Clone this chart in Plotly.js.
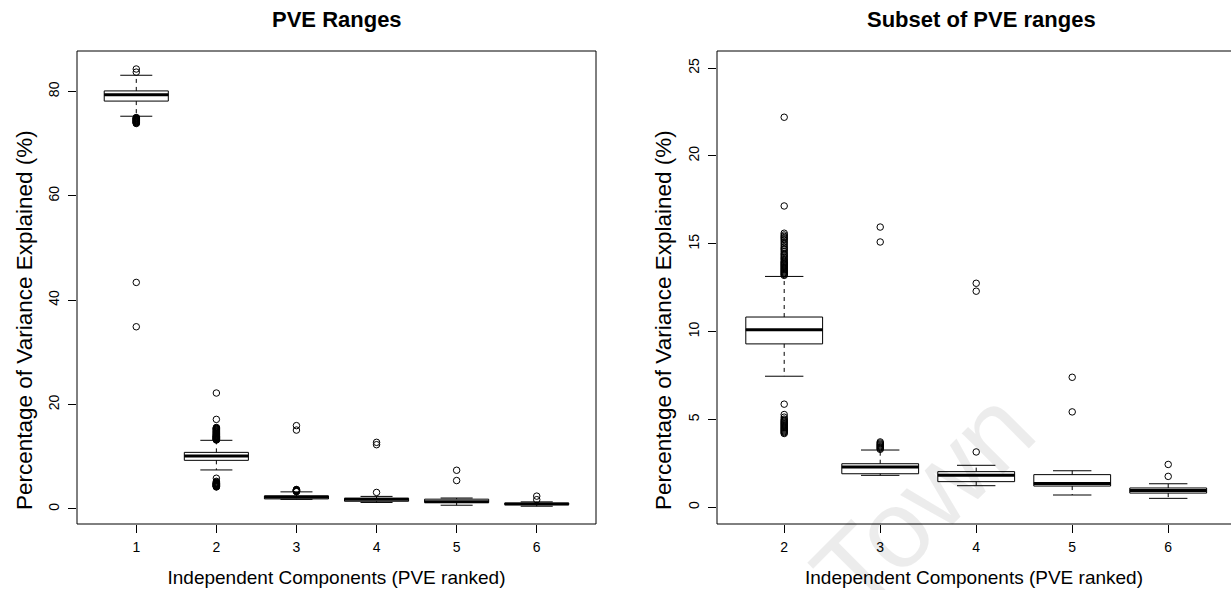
<!DOCTYPE html>
<html><head><meta charset="utf-8">
<script src="https://cdn.plot.ly/plotly-3.0.1.min.js"></script>
<style>html,body{margin:0;padding:0;background:#fff;}#chart{width:1231px;height:590px;}</style>
</head><body><div id="chart"></div>
<script>
// ---- data ----
const components = [1, 2, 3, 4, 5, 6];
const subsetComponents = [2, 3, 4, 5, 6];
const q1 = [78.15, 9.30, 1.91, 1.46, 1.21, 0.81];
const median = [79.35, 10.11, 2.29, 1.83, 1.36, 0.95];
const q3 = [80.10, 10.83, 2.48, 2.03, 1.86, 1.10];
const lowerWhisker = [75.25, 7.46, 1.82, 1.23, 0.70, 0.51];
const upperWhisker = [83.10, 13.14, 3.26, 2.39, 2.08, 1.34];
const outliersIC1 = [84.3, 83.7, 75.0, 74.92, 74.85, 74.78, 74.7, 74.62, 74.55, 74.48, 74.4, 74.33, 74.25, 74.18, 74.1, 74.02, 73.95, 73.85, 43.4, 34.9];
const outliersIC2 = [22.2, 17.15, 15.6, 15.5, 15.42, 15.35, 15.28, 15.2, 15.1, 15.0, 14.9, 14.8, 14.72, 14.65, 14.55, 14.45, 14.38, 14.3, 14.22, 14.15, 14.08, 14.0, 13.95, 13.9, 13.85, 13.8, 13.75, 13.7, 13.65, 13.6, 13.55, 13.5, 13.45, 13.4, 13.35, 13.3, 13.25, 13.2,
  5.87, 5.28, 5.13, 5.02, 4.96, 4.9, 4.85, 4.8, 4.75, 4.7, 4.65, 4.6, 4.55, 4.5, 4.45, 4.4, 4.35, 4.3, 4.25, 4.2];
const outliersIC3 = [15.95, 15.1, 3.72, 3.66, 3.6, 3.55, 3.5, 3.45, 3.4, 3.35, 3.3];
const outliersIC4 = [12.75, 12.3, 3.15];
const outliersIC5 = [7.40, 5.43];
const outliersIC6 = [2.44, 1.76];
const outliers = [outliersIC1, outliersIC2, outliersIC3, outliersIC4, outliersIC5, outliersIC6];
const leftTicksY = [0, 20, 40, 60, 80];
const rightTicksY = [0, 5, 10, 15, 20, 25];

const BOXW = 0.8, CAPW = 0.4;

function traces(comps, xa, ya) {
  const idx = comps.map(c => components.indexOf(c));
  const out = [];
  out.push({
    type: 'box', xaxis: xa, yaxis: ya, x: comps,
    q1: idx.map(i => q1[i]), median: idx.map(i => median[i]), q3: idx.map(i => q3[i]),
    lowerfence: idx.map(i => q1[i]), upperfence: idx.map(i => q3[i]),
    width: BOXW, whiskerwidth: 0, boxpoints: false,
    fillcolor: 'rgba(0,0,0,0)', line: {color: 'black', width: 1},
    hoverinfo: 'skip', showlegend: false
  });
  const wx = [], wy = [], cx = [], cy = [], mx = [], my = [];
  idx.forEach((i, k) => {
    const c = comps[k];
    wx.push(c, c, null, c, c, null);
    wy.push(q3[i], upperWhisker[i], null, q1[i], lowerWhisker[i], null);
    cx.push(c - CAPW / 2, c + CAPW / 2, null, c - CAPW / 2, c + CAPW / 2, null);
    cy.push(upperWhisker[i], upperWhisker[i], null, lowerWhisker[i], lowerWhisker[i], null);
    mx.push(c - BOXW / 2, c + BOXW / 2, null);
    my.push(median[i], median[i], null);
  });
  out.push({type: 'scatter', mode: 'lines', xaxis: xa, yaxis: ya, x: wx, y: wy,
    line: {color: 'black', width: 1, dash: '4px,4px'}, hoverinfo: 'skip', showlegend: false});
  out.push({type: 'scatter', mode: 'lines', xaxis: xa, yaxis: ya, x: cx, y: cy,
    line: {color: 'black', width: 1}, hoverinfo: 'skip', showlegend: false});
  out.push({type: 'scatter', mode: 'lines', xaxis: xa, yaxis: ya, x: mx, y: my,
    line: {color: 'black', width: 3}, hoverinfo: 'skip', showlegend: false});
  const ox = [], oy = [];
  idx.forEach((i, k) => outliers[i].forEach(v => { ox.push(comps[k]); oy.push(v); }));
  out.push({type: 'scatter', mode: 'markers', xaxis: xa, yaxis: ya, x: ox, y: oy,
    marker: {symbol: 'circle-open', size: 6.5, color: 'black', line: {width: 1}},
    hoverinfo: 'y', showlegend: false});
  return out;
}

const data = traces(components, 'x', 'y').concat(traces(subsetComponents, 'x2', 'y2'));

const FONT = 'Liberation Sans, Arial, Helvetica, sans-serif';
const axisCommon = {showgrid: false, zeroline: false, showline: false, ticks: 'outside',
  ticklen: 8, tickcolor: 'black', tickwidth: 1, tickfont: {size: 14, color: 'black'}, automargin: false, fixedrange: true};
const yTitle = 'Percentage of Variance Explained (%)';

const layout = {
  width: 1231, height: 590, autosize: false,
  margin: {l: 0, r: 0, t: 51, b: 66, pad: 0},
  paper_bgcolor: 'white', plot_bgcolor: 'rgba(0,0,0,0)', showlegend: false,
  font: {family: FONT, color: 'black'},
  xaxis: Object.assign({}, axisCommon, {domain: [77 / 1231, 596 / 1231], range: [0.26, 6.74], tickvals: components,
    anchor: 'y', ticklabelstandoff: 2, title: {text: 'Independent Components (PVE ranked)', font: {size: 19}, standoff: 16}}),
  yaxis: Object.assign({}, axisCommon, {domain: [0, 1], range: [-2.9, 87.75], tickvals: leftTicksY, tickangle: -90,
    anchor: 'x', ticklabelstandoff: 3}),
  xaxis2: Object.assign({}, axisCommon, {domain: [717 / 1231, 1], range: [1.3, 6.654], tickvals: subsetComponents,
    anchor: 'y2', ticklabelstandoff: 2, title: {text: 'Independent Components (PVE ranked)', font: {size: 19}, standoff: 16}}),
  yaxis2: Object.assign({}, axisCommon, {domain: [0, 1], range: [-0.95, 25.97], tickvals: rightTicksY, tickangle: -90,
    anchor: 'x2', ticklabelstandoff: 3}),
  shapes: [
    {type: 'rect', xref: 'x domain', yref: 'y domain', x0: 0, x1: 1, y0: 0, y1: 1, line: {color: 'black', width: 1}},
    {type: 'path', xref: 'x2 domain', yref: 'y2 domain', path: 'M 1.01,1 L 0,1 L 0,0 L 1.01,0', line: {color: 'black', width: 1}}
  ],
  annotations: [
    {text: '<b>PVE Ranges</b>', xref: 'x', yref: 'paper', x: 3.5, y: 1 + 31 / 473, yanchor: 'middle', showarrow: false, font: {size: 22}},
    {text: '<b>Subset of PVE ranges</b>', xref: 'x2', yref: 'paper', x: 4.06, y: 1 + 31 / 473, yanchor: 'middle', showarrow: false, font: {size: 22}},
    {text: yTitle, xref: 'paper', yref: 'paper', x: 24 / 1231, y: (524 - 320) / 473, xanchor: 'center', yanchor: 'middle',
      textangle: -90, showarrow: false, font: {size: 22.5}},
    {text: yTitle, xref: 'paper', yref: 'paper', x: 663 / 1231, y: (524 - 320) / 473, xanchor: 'center', yanchor: 'middle',
      textangle: -90, showarrow: false, font: {size: 22.5}},
    {text: 'Town', xref: 'paper', yref: 'paper', x: 922 / 1231, y: (524 - 500) / 473, xanchor: 'center', yanchor: 'middle',
      showarrow: false, textangle: -45, font: {size: 110, color: 'rgba(0,0,0,0.075)'}}
  ]
};

Plotly.newPlot('chart', data, layout, {staticPlot: true, displayModeBar: false});
</script></body></html>
